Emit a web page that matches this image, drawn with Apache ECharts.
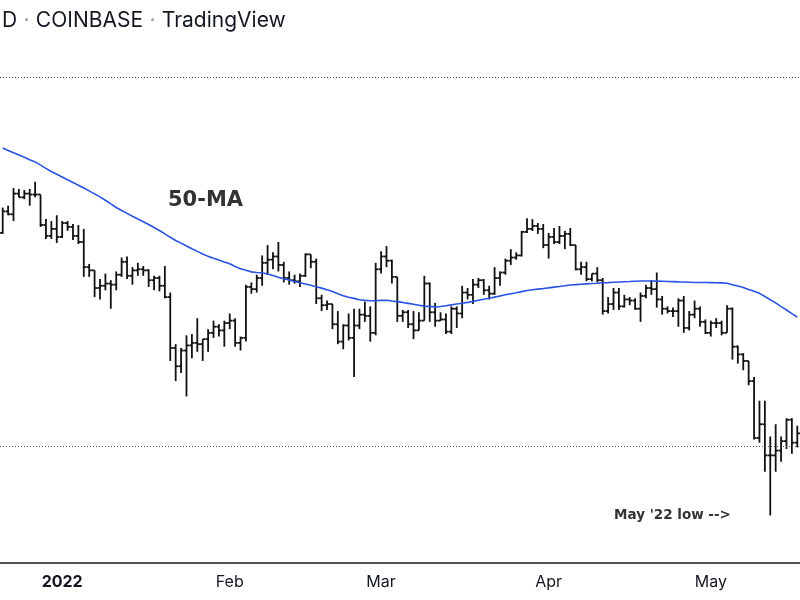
<!DOCTYPE html>
<html>
<head>
<meta charset="utf-8">
<script src="https://cdn.jsdelivr.net/npm/echarts@6/dist/echarts.min.js"></script>
<style>
  html, body { margin: 0; padding: 0; background: #fff; }
  #main { width: 800px; height: 600px; }
</style>
</head>
<body>
<div id="main"></div>
<script>
// BTC/USD daily, Coinbase, 21 Dec 2021 -> 17 May 2022 (prices in $k)
var startDate = '2021-12-21'
var dayCount = 148

var open = [
  46.7, 48.9, 48.6, 50.8, 50.4, 50.8, 50.7, 50.7, 47.5, 46.4, 47.1,
  46.3, 47.7, 47.3, 46.4, 45.8, 43.4, 43.1, 41.5, 41.7, 41.9, 41.8, 42.7, 43.9, 42.6, 43.1,
  43.2, 43.1, 42.2, 42.4, 41.7, 40.7, 36.5, 35.1, 36.3, 36.7, 36.9, 36.8, 37.2, 37.7, 38.2, 37.9,
  38.5, 38.7, 36.9, 37.3, 41.6, 41.4, 42.4, 43.8, 44.1, 44.4, 43.6, 42.4, 42.2, 42.1, 42.6, 44.6,
  43.9, 40.6, 40.0, 40.1, 38.4, 37.0, 38.3, 37.3, 38.3, 39.2, 39.1, 37.7,
  43.2, 44.4, 44.0, 42.5, 39.1, 39.4, 38.4, 37.9, 38.7, 41.9, 39.4, 38.7, 38.8, 37.8, 39.7, 39.3,
  41.1, 40.9, 41.8, 42.2, 41.3, 41.0, 42.4, 42.9, 44.0, 44.3, 44.5, 46.8, 47.1, 47.4, 47.1,
  45.5, 46.3, 45.8, 46.4, 46.6, 45.5, 43.2, 43.4, 42.3, 42.8, 42.2, 39.5, 40.1, 41.1, 39.9, 40.5,
  40.4, 39.7, 40.8, 41.5, 41.4, 40.5, 39.7, 39.5, 39.5, 40.4, 38.1, 39.2, 39.7, 38.6,
  37.7, 38.5, 38.5, 37.7, 39.7, 36.6, 36.0, 35.5, 34.0, 30.1, 31.0, 29.0, 29.0, 29.3, 29.9, 31.3, 29.8
]
var high = [
  49.3, 49.5, 51.4, 51.3, 51.2, 51.3, 52.1, 50.7, 48.1, 47.9, 48.5,
  47.9, 47.9, 47.6, 47.5, 47.1, 43.7, 43.1, 42.3, 42.8, 42.2, 43.0, 44.3, 44.4, 43.4, 43.8,
  43.5, 43.2, 42.6, 42.6, 43.5, 41.1, 36.8, 36.5, 37.5, 37.6, 38.9, 37.2, 38.0, 38.7, 38.4, 38.7,
  39.3, 38.9, 37.4, 41.8, 42.0, 42.7, 44.5, 45.5, 44.8, 45.8, 43.9, 43.0, 42.7, 42.8, 44.7, 44.6,
  44.2, 40.9, 40.4, 40.1, 39.5, 38.4, 39.3, 39.7, 39.7, 40.3, 39.9, 43.8,
  44.9, 45.4, 44.1, 42.5, 39.6, 39.6, 39.5, 39.4, 42.6, 42.0, 40.2, 39.4, 39.3, 39.9, 39.9, 41.7,
  41.5, 42.3, 42.4, 42.3, 41.7, 43.4, 43.0, 44.2, 45.1, 44.8, 46.9, 48.2, 48.1, 47.7, 47.6,
  46.7, 47.2, 47.4, 46.9, 47.2, 45.5, 43.9, 43.9, 42.8, 43.4, 42.4, 40.7, 41.5, 41.5, 40.9, 40.7,
  40.6, 41.1, 41.8, 42.2, 42.9, 40.8, 39.9, 39.8, 40.6, 40.8, 39.5, 40.4, 39.9, 38.8,
  38.7, 38.9, 38.7, 40.0, 39.8, 36.7, 36.1, 35.5, 34.3, 32.6, 32.6, 30.2, 31.0, 30.2, 31.4, 31.4, 30.9
]
var low = [
  46.6, 48.5, 47.9, 50.4, 50.2, 49.5, 50.4, 47.3, 46.1, 46.1, 45.7,
  46.2, 46.9, 46.0, 45.6, 42.5, 42.5, 40.7, 40.5, 41.3, 39.7, 41.3, 42.5, 42.3, 41.8, 42.6,
  42.6, 41.6, 41.3, 41.2, 40.6, 35.5, 34.0, 34.6, 32.9, 35.7, 36.2, 35.5, 36.2, 37.3, 37.4, 36.6,
  38.0, 36.6, 36.3, 37.0, 41.0, 41.1, 41.7, 42.7, 43.2, 43.0, 42.0, 41.8, 41.9, 41.6, 42.5, 43.3,
  40.1, 39.5, 39.6, 38.0, 36.8, 36.4, 37.1, 34.3, 38.0, 38.6, 37.0, 37.5,
  42.8, 43.4, 41.9, 38.6, 38.6, 38.1, 37.2, 37.9, 38.7, 38.6, 38.2, 38.7, 37.6, 37.6, 38.1, 38.9,
  40.5, 40.1, 41.5, 40.9, 40.5, 40.9, 41.7, 42.7, 43.6, 44.1, 44.4, 46.7, 46.9, 46.6, 45.2,
  44.2, 45.6, 45.6, 45.1, 45.4, 43.1, 42.7, 42.1, 42.1, 42.0, 39.2, 39.3, 39.6, 39.6, 39.8, 40.0,
  39.6, 38.6, 40.6, 40.9, 39.8, 39.2, 39.3, 39.0, 38.2, 37.7, 37.9, 38.9, 38.2, 37.6,
  37.4, 38.1, 37.5, 37.7, 35.6, 35.3, 34.8, 33.7, 30.0, 29.8, 28.0, 25.5, 28.0, 28.6, 29.4, 29.1, 29.5
]
var close = [
  48.9, 48.6, 50.8, 50.4, 50.8, 50.7, 50.7, 47.5, 46.4, 47.1, 46.3,
  47.7, 47.3, 46.4, 45.8, 43.4, 43.1, 41.5, 41.7, 41.9, 41.8, 42.7, 43.9, 42.6, 43.1, 43.2,
  43.1, 42.2, 42.4, 41.7, 40.7, 36.5, 35.1, 36.3, 36.7, 36.9, 36.8, 37.2, 37.7, 38.2, 37.9, 38.5,
  38.7, 36.9, 37.3, 41.6, 41.4, 42.4, 43.8, 44.1, 44.4, 43.6, 42.4, 42.2, 42.1, 42.6, 44.6, 43.9,
  40.6, 40.0, 40.1, 38.4, 37.0, 38.3, 37.3, 38.3, 39.2, 39.1, 37.7, 43.2,
  44.4, 44.0, 42.5, 39.1, 39.4, 38.4, 37.9, 38.7, 41.9, 39.4, 38.7, 38.8, 37.8, 39.7, 39.3, 41.1,
  40.9, 41.8, 42.2, 41.3, 41.0, 42.4, 42.9, 44.0, 44.3, 44.5, 46.8, 47.1, 47.4, 47.1, 45.5,
  46.3, 45.8, 46.4, 46.6, 45.5, 43.2, 43.4, 42.3, 42.8, 42.2, 39.5, 40.1, 41.1, 39.9, 40.5, 40.4,
  39.7, 40.8, 41.5, 41.4, 40.5, 39.7, 39.5, 39.5, 40.4, 38.1, 39.2, 39.7, 38.6, 37.7,
  38.5, 38.5, 37.7, 39.7, 36.6, 36.0, 35.5, 34.0, 30.1, 31.0, 29.0, 29.0, 29.3, 29.9, 31.3, 29.8, 30.4
]
var ma50 = [
  56.00, 55.72, 55.45, 55.17, 54.90, 54.63, 54.37, 53.99, 53.62, 53.27, 52.95,
  52.64, 52.33, 52.02, 51.72, 51.41, 51.10, 50.77, 50.44, 50.08, 49.69, 49.31, 49.00, 48.69, 48.39, 48.11,
  47.83, 47.54, 47.24, 46.94, 46.60, 46.26, 45.95, 45.69, 45.41, 45.14, 44.89, 44.63, 44.41, 44.23, 44.06, 43.88,
  43.71, 43.46, 43.25, 43.10, 42.96, 42.90, 42.88, 42.77, 42.62, 42.47, 42.34, 42.22, 42.09, 41.97, 41.86, 41.74,
  41.62, 41.49, 41.34, 41.19, 41.00, 40.82, 40.69, 40.59, 40.47, 40.42, 40.39, 40.38,
  40.42, 40.42, 40.36, 40.31, 40.24, 40.16, 40.08, 40.00, 39.92, 39.90, 39.86, 39.89, 39.96, 40.03, 40.10, 40.17,
  40.24, 40.33, 40.42, 40.51, 40.60, 40.70, 40.80, 40.90, 40.99, 41.08, 41.18, 41.28, 41.35, 41.40, 41.45,
  41.51, 41.58, 41.64, 41.70, 41.77, 41.80, 41.84, 41.87, 41.90, 41.93, 41.97, 41.98, 42.01, 42.04, 42.06, 42.08,
  42.11, 42.13, 42.13, 42.13, 42.12, 42.10, 42.08, 42.07, 42.05, 42.04, 42.02, 42.00, 41.99, 41.99,
  41.98, 41.97, 41.96, 41.92, 41.80, 41.68, 41.54, 41.37, 41.21, 41.03, 40.75, 40.47, 40.20, 39.88, 39.59, 39.29, 39.00
]
// dotted price levels
var levels = [65.2, 29.6]

var tickDates = ['2022-01-01', '2022-02-01', '2022-03-01', '2022-04-01', '2022-05-01']
var tickLabels = ['2022', 'Feb', 'Mar', 'Apr', 'May']

var days = []
var t0 = Date.parse(startDate + 'T00:00:00Z')
for (var d = 0; d < dayCount; d++) {
  days.push(new Date(t0 + d * 86400000).toISOString().slice(0, 10))
}
var tickMap = {}
tickDates.forEach(function (dt, k) { tickMap[dt] = tickLabels[k] })

var bars = days.map(function (dt, i) {
  return [i, open[i], high[i], low[i], close[i]]
})

function renderBar(params, api) {
  var i = api.value(0)
  var pH = api.coord([i, api.value(2)])
  var pL = api.coord([i, api.value(3)])
  var pO = api.coord([i, api.value(1)])
  var pC = api.coord([i, api.value(4)])
  var x = pH[0]
  var t = 2.6
  var style = { stroke: '#111111', lineWidth: 1.8 }
  return {
    type: 'group',
    children: [
      { type: 'line', shape: { x1: x, y1: pH[1], x2: x, y2: pL[1] }, style: style },
      { type: 'line', shape: { x1: x - t, y1: pO[1], x2: x, y2: pO[1] }, style: style },
      { type: 'line', shape: { x1: x, y1: pC[1], x2: x + t, y2: pC[1] }, style: style }
    ]
  }
}

var myChart = echarts.init(document.getElementById('main'))
var option = {
  animation: false,
  backgroundColor: '#ffffff',
  grid: { left: -2.5, right: -1.6, top: 0, bottom: 37 },
  xAxis: {
    type: 'category',
    data: days,
    boundaryGap: true,
    axisLine: { onZero: false, lineStyle: { color: '#131722', width: 1.6 } },
    axisTick: { show: false },
    splitLine: { show: false },
    axisLabel: {
      margin: 11,
      interval: function (index, value) { return tickMap[value] !== undefined },
      formatter: function (value) {
        var s = tickMap[value]
        return s === '2022' ? '{y|' + s + '}' : '{m|' + s + '}'
      },
      rich: {
        y: { fontSize: 16, fontWeight: 'bold', fontFamily: 'Inter', color: '#131722' },
        m: { fontSize: 16, fontFamily: 'Inter', color: '#131722' }
      }
    }
  },
  yAxis: {
    type: 'log',
    logBase: 10,
    min: 23.03,
    max: 76.9,
    show: false,
    splitLine: { show: false }
  },
  series: [
    {
      type: 'custom',
      name: 'BTCUSD',
      renderItem: renderBar,
      encode: { x: 0, y: [1, 2, 3, 4] },
      data: bars,
      silent: true
    },
    {
      type: 'line',
      name: '50-MA',
      data: ma50,
      showSymbol: false,
      symbol: 'none',
      lineStyle: { color: '#2a52e4', width: 1.6 },
      silent: true,
      markLine: {
        silent: true,
        symbol: 'none',
        label: { show: false },
        lineStyle: { color: '#555555', width: 1, type: [1, 2] },
        data: levels.map(function (v) { return { yAxis: v } })
      }
    }
  ],
  graphic: [
    {
      type: 'text',
      x: 2,
      y: 21,
      style: {
        text: '{a|D} {s|·} {a|COINBASE} {s|·} {a|TradingView}',
        verticalAlign: 'middle',
        rich: {
          a: { fontSize: 21, fontFamily: 'Inter', fill: '#131722', color: '#131722' },
          s: { fontSize: 21, fontFamily: 'Inter', fill: '#9598a1', color: '#9598a1', padding: [0, 3] }
        }
      }
    },
    {
      type: 'text',
      x: 168,
      y: 201,
      style: {
        text: '50-MA',
        font: 'bold 21px "DejaVu Sans"',
        fill: '#333333',
        verticalAlign: 'middle'
      }
    },
    {
      type: 'text',
      x: 614,
      y: 515,
      style: {
        text: "May '22 low -->",
        font: 'bold 13.5px "DejaVu Sans"',
        fill: '#333333',
        verticalAlign: 'middle'
      }
    }
  ]
}
option && myChart.setOption(option)
</script>
</body>
</html>
